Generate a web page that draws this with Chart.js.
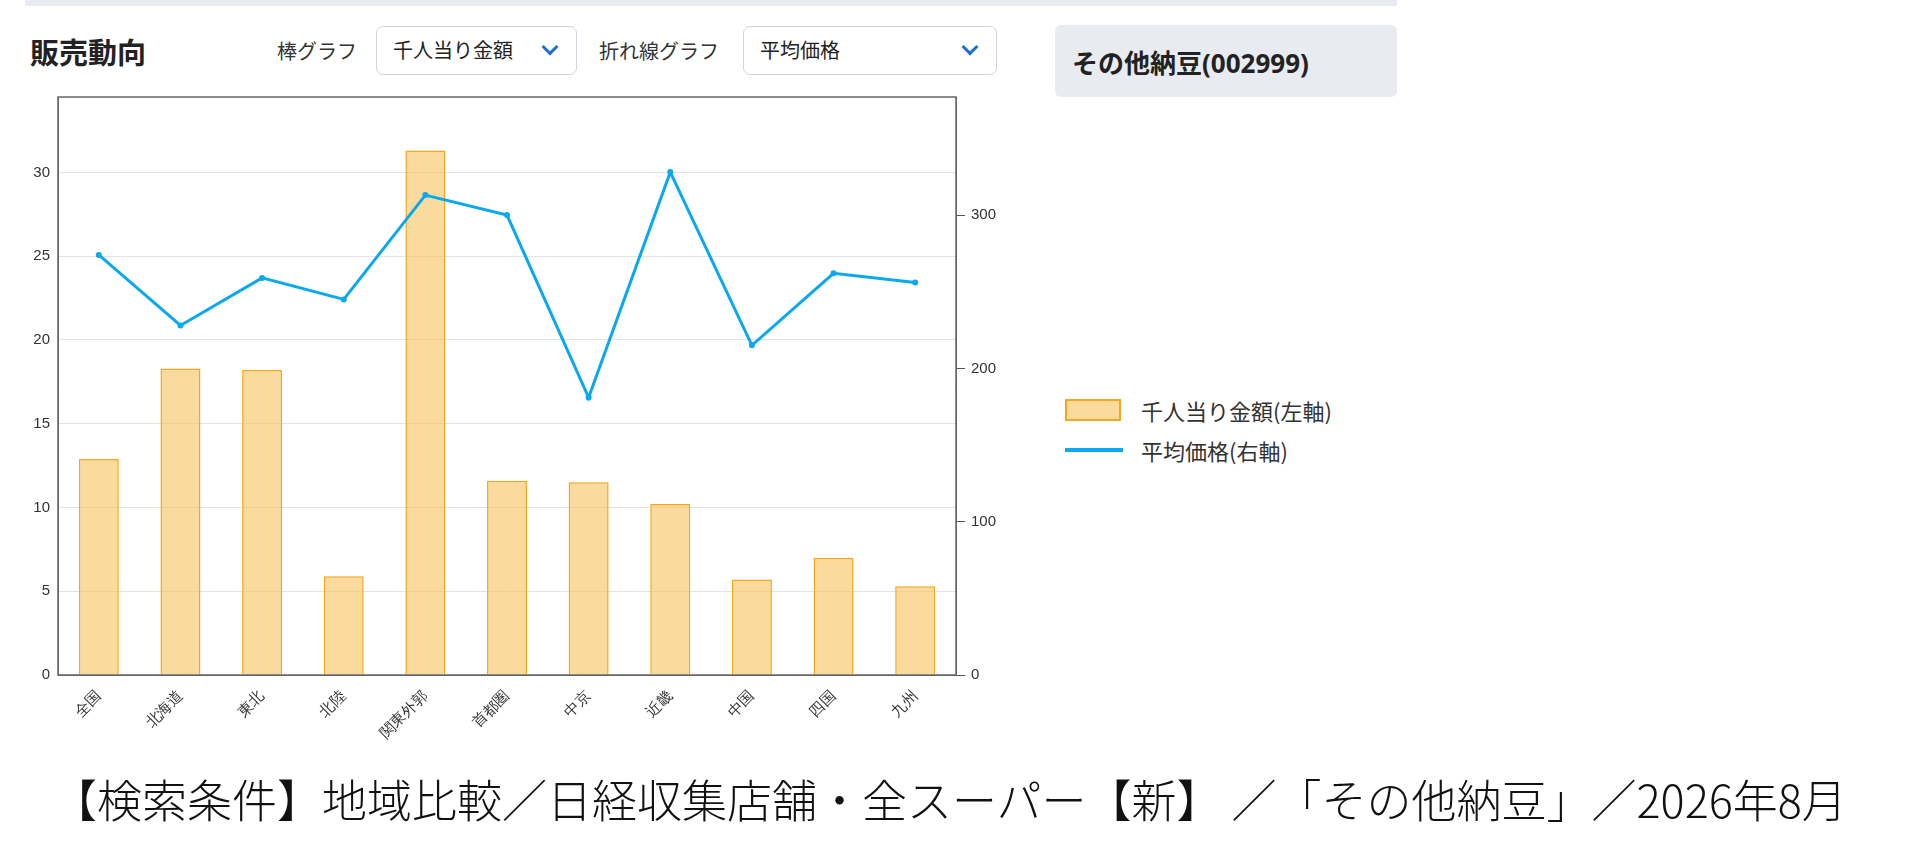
<!DOCTYPE html>
<html><head><meta charset="utf-8">
<script src="https://cdn.jsdelivr.net/npm/chart.js@4"></script>
<style>
body{margin:0;width:1931px;height:852px;background:#fff;font-family:"Noto Sans CJK JP","Noto Sans",sans-serif;position:relative;overflow:hidden}
.abs{position:absolute}
.sel{position:absolute;border:1px solid #cfd4dc;border-radius:7px;background:#fff;box-sizing:border-box;font-size:20px;color:#222;padding-left:16px;line-height:46px}
.chev{position:absolute;right:20px;top:14px;width:9px;height:9px;border-right:3px solid #1f6fd0;border-bottom:3px solid #1f6fd0;transform:rotate(45deg)}
.lbl{position:absolute;font-size:20px;color:#333;top:36px}
</style></head><body>
<div class="abs" style="left:25px;top:0;width:1372px;height:6px;background:#e8ebef"></div>
<div class="abs" style="left:30px;top:30px;font-size:29px;font-weight:bold;color:#222">販売動向</div>
<div class="lbl" style="left:277px">棒グラフ</div>
<div class="sel" style="left:376px;top:26px;width:201px;height:49px">千人当り金額<span class="chev"></span></div>
<div class="lbl" style="left:599px">折れ線グラフ</div>
<div class="sel" style="left:743px;top:26px;width:254px;height:49px">平均価格<span class="chev"></span></div>
<div class="abs" style="left:1055px;top:25px;width:342px;height:72px;background:#e8ebf0;border-radius:6px"></div>
<div class="abs" style="left:1072px;top:43px;font-size:26px;font-weight:bold;color:#222;font-family:'Noto Sans','Noto Sans CJK JP',sans-serif">その他納豆(002999)</div>
<div class="abs" style="left:0;top:80px;width:1000px;height:690px"><canvas id="c" width="1000" height="690"></canvas></div>
<div id="legend" class="abs" style="left:1065px;top:390px;font-size:22px;color:#333"></div>
<div class="abs" style="left:52px;top:766px;font-size:45px;color:#111;font-weight:300;white-space:nowrap">【検索条件】地域比較／日経収集店舗・全スーパー【新】 ／「その他納豆」／2026年8月</div>
<script>
const categories=['全国','北海道','東北','北陸','関東外郭','首都圏','中京','近畿','中国','四国','九州'];
const barValues=[12.9,18.3,18.2,5.9,31.3,11.6,11.5,10.2,5.7,7.0,5.3];
const lineValues=[274,228,259,245,313,300,181,328,215,262,256];
const barLabel='千人当り金額(左軸)';
const lineLabel='平均価格(右軸)';
const leftTicks=[0,5,10,15,20,25,30];
const rightTicks=[0,100,200,300];
const barFill='rgba(247,200,105,0.65)',barBorder='#f5a81c',lineColor='#0aa8ee';
const frame={id:'frame',afterDraw(c){const a=c.chartArea,x=c.ctx;x.save();x.strokeStyle='#666';x.lineWidth=1.5;x.strokeRect(a.left,a.top,a.right-a.left,a.bottom-a.top);x.restore();}};
new Chart(document.getElementById('c'),{
 data:{labels:categories,datasets:[
  {type:'line',label:lineLabel,data:lineValues,yAxisID:'y1',borderColor:lineColor,backgroundColor:lineColor,borderWidth:3,pointRadius:1.5,tension:0,order:0},
  {type:'bar',label:barLabel,data:barValues,yAxisID:'y',backgroundColor:barFill,borderColor:barBorder,borderWidth:1.5,barPercentage:0.49,categoryPercentage:1,order:1}
 ]},
 options:{responsive:false,animation:false,devicePixelRatio:1,
  layout:{padding:{top:14,left:0,right:0,bottom:0}},
  plugins:{legend:{display:false},tooltip:{enabled:false}},
  scales:{
   x:{grid:{display:false},border:{color:'#666'},ticks:{autoSkip:false,color:'#333',font:{size:15},maxRotation:45,minRotation:45,padding:4},afterFit(s){s.height=95;}},
   y:{position:'left',min:0,max:34.5,afterBuildTicks(s){s.ticks=leftTicks.map(v=>({value:v}));},grid:{color:'#e3e3e3',drawTicks:false},border:{color:'#666'},ticks:{color:'#333',font:{size:15},padding:8},afterFit(s){s.width=58;}},
   y1:{position:'right',min:0,max:377,afterBuildTicks(s){s.ticks=rightTicks.map(v=>({value:v}));},grid:{drawOnChartArea:false,color:'#555',tickLength:9},border:{color:'#666'},ticks:{color:'#333',font:{size:15},padding:6},afterFit(s){s.width=44;}}
  }},
 plugins:[frame]
});
const lg=document.getElementById('legend');
lg.innerHTML=`<div style="display:flex;align-items:center;height:40px"><span style="display:inline-block;width:56px;height:22px;background:${barFill};border:2px solid ${barBorder};box-sizing:border-box;margin-right:20px"></span>${barLabel}</div>
<div style="display:flex;align-items:center;height:40px"><span style="display:inline-block;width:58px;height:4px;background:${lineColor};margin-right:18px"></span>${lineLabel}</div>`;
</script>
</body></html>
